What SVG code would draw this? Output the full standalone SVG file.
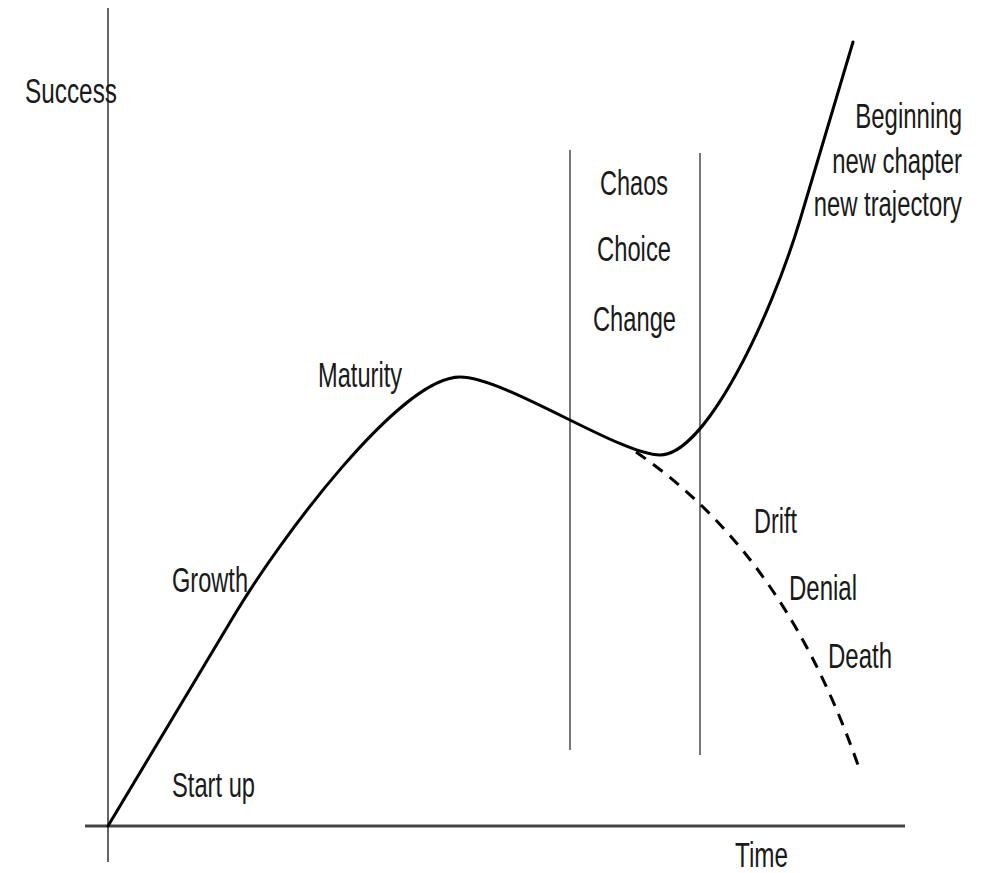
<svg xmlns="http://www.w3.org/2000/svg" width="991" height="873" viewBox="0 0 991 873">
<style>
.lbl{font-family:"Liberation Sans",Arial,sans-serif;font-size:35px;fill:#1a1a1a}
.end{text-anchor:end}
.axis{stroke:#666;stroke-width:2;fill:none}
.xaxis{stroke:#444;stroke-width:3;fill:none}
.band{stroke:#777;stroke-width:2;fill:none}
.curve{stroke:#000;stroke-width:3;fill:none;stroke-linecap:round;stroke-linejoin:round}
.dash{stroke:#000;stroke-width:3;fill:none;stroke-dasharray:12 9}
</style>
<rect width="991" height="873" fill="#fff"/>
<g id="axes">
<line class="axis" x1="108" y1="8" x2="108" y2="862"/>
<line class="xaxis" x1="85" y1="826" x2="905" y2="826"/>
</g>
<g id="transition-band">
<line class="band" x1="570" y1="150" x2="570" y2="750"/>
<line class="band" x1="700" y1="153" x2="700" y2="755"/>
</g>
<g id="connectors">
<path class="curve" d="M108,826 L235,614 C280,539 400,377 460,377 C505,377 620,455 660,455 C705,455 770,320 800,220 L853,42"/>
<path class="dash" d="M636,452 C720,510 800,600 858,765"/>
</g>
<g id="label-success"><text class="lbl" x="25" y="103" textLength="92" lengthAdjust="spacingAndGlyphs">Success</text></g>
<g id="label-time"><text class="lbl" x="735" y="867" textLength="53" lengthAdjust="spacingAndGlyphs">Time</text></g>
<g id="node-startup"><text class="lbl" x="172" y="797" textLength="83" lengthAdjust="spacingAndGlyphs">Start up</text></g>
<g id="node-growth"><text class="lbl" x="172" y="592" textLength="76" lengthAdjust="spacingAndGlyphs">Growth</text></g>
<g id="node-maturity"><text class="lbl" x="318" y="387" textLength="84" lengthAdjust="spacingAndGlyphs">Maturity</text></g>
<g id="node-chaos"><text class="lbl" x="600" y="195" textLength="68" lengthAdjust="spacingAndGlyphs">Chaos</text></g>
<g id="node-choice"><text class="lbl" x="597" y="261" textLength="74" lengthAdjust="spacingAndGlyphs">Choice</text></g>
<g id="node-change"><text class="lbl" x="593" y="331" textLength="83" lengthAdjust="spacingAndGlyphs">Change</text></g>
<g id="node-beginning">
<text class="lbl end" transform="translate(962,128) scale(0.68,1)" x="0" y="0" textLength="157" lengthAdjust="spacingAndGlyphs">Beginning</text>
<text class="lbl end" transform="translate(962,173) scale(0.68,1)" x="0" y="0" textLength="191" lengthAdjust="spacingAndGlyphs">new chapter</text>
<text class="lbl end" transform="translate(962,216) scale(0.68,1)" x="0" y="0" textLength="218" lengthAdjust="spacingAndGlyphs">new trajectory</text>
</g>
<g id="node-drift"><text class="lbl" x="754" y="533" textLength="43" lengthAdjust="spacingAndGlyphs">Drift</text></g>
<g id="node-denial"><text class="lbl" x="789" y="600" textLength="68" lengthAdjust="spacingAndGlyphs">Denial</text></g>
<g id="node-death"><text class="lbl" x="828" y="668" textLength="64" lengthAdjust="spacingAndGlyphs">Death</text></g>
</svg>
